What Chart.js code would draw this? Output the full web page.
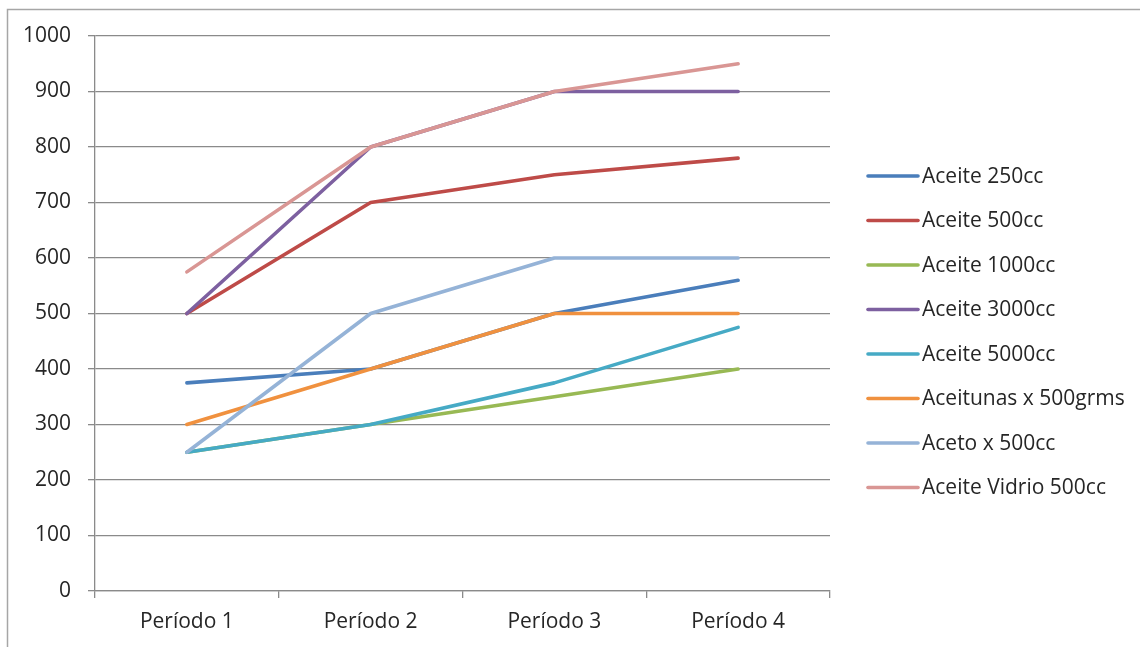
<!DOCTYPE html>
<html>
<head>
<meta charset="utf-8">
<script src="https://cdn.jsdelivr.net/npm/chart.js@4.4.1/dist/chart.umd.min.js"></script>
<style>
html,body{margin:0;padding:0;background:#fff;overflow:hidden;}
#wrap{width:1140px;height:647px;position:relative;}
</style>
</head>
<body>
<div id="wrap"><canvas id="c" width="1140" height="647"></canvas></div>
<script>
const categories = ["Período 1", "Período 2", "Período 3", "Período 4"];
const seriesNames = ["Aceite 250cc", "Aceite 500cc", "Aceite 1000cc", "Aceite 3000cc", "Aceite 5000cc", "Aceitunas x 500grms", "Aceto x 500cc", "Aceite Vidrio 500cc"];
const aceite250 = [375, 400, 500, 560];
const aceite500 = [500, 700, 750, 780];
const aceite1000 = [250, 300, 350, 400];
const aceite3000 = [500, 800, 900, 900];
const aceite5000 = [250, 300, 375, 475];
const aceitunas500 = [300, 400, 500, 500];
const aceto500 = [250, 500, 600, 600];
const aceiteVidrio500 = [575, 800, 900, 950];
const yTicks = [0, 100, 200, 300, 400, 500, 600, 700, 800, 900, 1000];
const colors = ["#4A7EBB", "#BE4B48", "#98B954", "#7D60A0", "#46AAC5", "#F0913F", "#95B3D7", "#D99694"];

const allValues = [aceite250, aceite500, aceite1000, aceite3000, aceite5000, aceitunas500, aceto500, aceiteVidrio500];
const FONT = "'Open Sans', 'Noto Sans', sans-serif";
const TEXT = "#262626";
const GRID = "#8a8a8a";

const datasets = allValues.map((vals, i) => ({
  label: seriesNames[i],
  data: vals,
  borderColor: colors[i],
  backgroundColor: colors[i],
  borderWidth: 3.6,
  pointRadius: 0,
  tension: 0,
  fill: false,
  order: allValues.length - i
}));

const framePlugin = {
  id: 'frame',
  beforeDraw(chart) {
    const ctx = chart.ctx;
    ctx.save();
    ctx.fillStyle = '#fff';
    ctx.fillRect(0, 0, chart.width, chart.height);
    ctx.strokeStyle = '#a6a6a6';
    ctx.lineWidth = 1.5;
    ctx.beginPath();
    ctx.moveTo(7.5, chart.height);
    ctx.lineTo(7.5, 9.5);
    ctx.lineTo(chart.width, 9.5);
    ctx.stroke();
    ctx.restore();
  }
};

const legendPlugin = {
  id: 'customLegend',
  afterDraw(chart) {
    const ctx = chart.ctx;
    ctx.save();
    const x0 = 868, x1 = 918, tx = 922, yStart = 176, step = 44.5;
    ctx.font = "21px " + FONT;
    ctx.textBaseline = 'middle';
    ctx.textAlign = 'left';
    chart.data.datasets.forEach((ds, i) => {
      const y = yStart + i * step;
      ctx.strokeStyle = ds.borderColor;
      ctx.lineWidth = 3.6;
      ctx.lineCap = 'round';
      ctx.beginPath();
      ctx.moveTo(x0, y);
      ctx.lineTo(x1, y);
      ctx.stroke();
      ctx.fillStyle = TEXT;
      ctx.fillText(ds.label, tx, y + 1);
    });
    ctx.restore();
  }
};

new Chart(document.getElementById('c'), {
  type: 'line',
  data: { labels: categories, datasets: datasets },
  options: {
    responsive: false,
    animation: false,
    devicePixelRatio: 1,
    layout: { padding: { left: 0, top: 36, right: 310, bottom: 0 } },
    plugins: { legend: { display: false }, tooltip: { enabled: false }, title: { display: false } },
    elements: { line: { borderCapStyle: 'round', borderJoinStyle: 'round' } },
    scales: {
      y: {
        min: 0, max: 1000,
        afterFit(s) { s.width = 95; },
        afterBuildTicks(s) { s.ticks = yTicks.map(v => ({ value: v })); },
        ticks: { color: TEXT, font: { family: FONT, size: 21 }, padding: 17, callback: v => String(v) },
        grid: { color: GRID, lineWidth: 1.3, tickLength: 7, drawTicks: true },
        border: { color: GRID, width: 1.3 }
      },
      x: {
        offset: true,
        afterFit(s) { s.height = 56; },
        ticks: { color: TEXT, font: { family: FONT, size: 21 }, padding: 11, maxRotation: 0 },
        grid: { offset: true, drawOnChartArea: false, drawTicks: true, tickLength: 7, color: GRID, lineWidth: 1.3 },
        border: { color: GRID, width: 1.3 }
      }
    }
  },
  plugins: [framePlugin, legendPlugin]
});
</script>
</body>
</html>
